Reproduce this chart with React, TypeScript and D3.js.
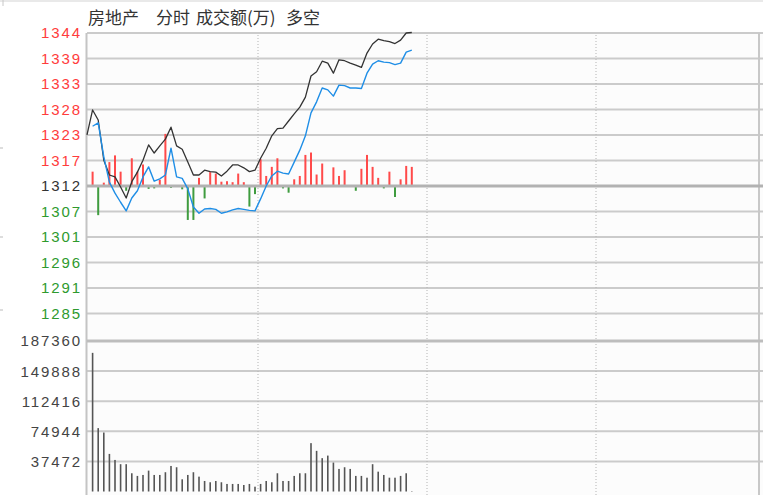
import React from 'react';
import * as d3 from 'd3';

// ---- data (2-minute slots from the open) ----
const prevClose = 1312;
const priceRange = 32;
const priceTickLabels = ['1344', '1339', '1333', '1328', '1323', '1317', '1312', '1307', '1301', '1296', '1291', '1285'];
const volumeTickLabels = ['187360', '149888', '112416', '74944', '37472'];
const volumeMax = 187360;

const priceLine: number[] = [
  1322.7, 1327.9, 1325.8, 1317.4, 1314.3, 1313.9, 1311.8, 1309.5, 1312.9, 1314.9,
  1317.4, 1320.6, 1318.9, 1320.4, 1321.8, 1324.3, 1320.4, 1319.7, 1317.0, 1314.3,
  1314.3, 1315.3, 1315.0, 1314.9, 1314.1, 1315.1, 1316.4, 1316.4, 1315.8, 1315.0,
  1315.3, 1317.8, 1319.9, 1322.5, 1324.0, 1324.1, 1325.6, 1327.1, 1328.5, 1330.6,
  1335.0, 1335.9, 1338.1, 1337.7, 1335.6, 1338.4, 1338.2, 1337.7, 1337.3, 1336.8,
  1339.8, 1341.7, 1342.7, 1342.4, 1342.2, 1341.8, 1342.5, 1344.0, 1344.1,
];

const avgLine: (number | null)[] = [
  null, 1324.5, 1325.2, 1318.1, 1312.8, 1310.5, 1308.6, 1306.8, 1309.5, 1311.0,
  1313.9, 1316.0, 1313.0, 1313.5, 1314.3, 1319.9, 1313.9, 1313.6, 1311.4, 1307.6,
  1306.3, 1307.2, 1307.3, 1307.1, 1306.3, 1306.6, 1307.0, 1307.3, 1307.1, 1306.9,
  1306.8, 1309.3, 1312.0, 1314.1, 1315.1, 1314.7, 1314.5, 1317.0, 1319.5, 1322.5,
  1327.3, 1329.6, 1332.5, 1332.1, 1330.8, 1333.1, 1333.0, 1332.5, 1332.5, 1332.4,
  1335.6, 1337.5, 1338.2, 1337.9, 1337.8, 1337.4, 1337.7, 1340.0, 1340.4,
];

// 多空 bars, in price-axis units around the previous close
const bullBear: number[] = [
  0, 3.0, -6.1, 0.7, 5.0, 6.4, 3.0, -1.0, 5.8, 3.0,
  4.5, -0.6, -0.5, 1.3, 10.9, -0.4, 0, -0.7, -7.1, -7.1,
  1.7, -2.6, 2.9, 2.6, 0.9, 1.0, 0.8, 2.6, 0.8, -4.3,
  -1.7, 5.6, 2.1, 4.0, 5.8, -0.5, -1.4, 1.4, 2.1, 6.5,
  7.0, 2.4, 4.7, 0, 3.9, 2.1, 3.3, 0, -1.0, 3.6,
  6.5, 4.0, 1.7, -0.5, 3.0, -2.3, 1.4, 4.2, 4.0,
];

// 成交额(万)
const volume: number[] = [
  0, 172600, 78900, 73400, 46800, 39300, 34000, 34000, 22700, 19400,
  20600, 26000, 20600, 20600, 24000, 31800, 30200, 15200, 20600, 24000,
  18500, 13100, 11500, 13100, 11500, 9400, 9400, 9400, 8100, 9400,
  6000, 9400, 13100, 11500, 22700, 13100, 13100, 19400, 22700, 22700,
  60200, 50600, 41500, 44700, 36000, 28100, 30200, 28100, 19400, 19400,
  17200, 34000, 24700, 20600, 17200, 17200, 19400, 22700, 500,
];

const hourDividers = [1, 2, 3];

export default function App() {
  const W = 763;
  const H = 495;
  const left = 87;
  const right = 759;
  const top = 33;
  const priceBottom = 339;
  const volTop = 341;
  const volBottom = 491.5;

  const x = d3.scaleLinear().domain([0, 120]).range([left, right]);
  const hourX = d3.scaleLinear().domain([0, 4]).range([89, 765]);
  const priceY = d3.scaleLinear().domain([prevClose - priceRange, prevClose + priceRange]).range([priceBottom, top]);
  const volY = d3.scaleLinear().domain([0, volumeMax]).range([volBottom, volTop]);

  const step = priceRange / 6;
  const priceTicks = priceTickLabels.map((label, i) => ({ label, value: prevClose + priceRange - i * step }));
  const volTicks = volumeTickLabels.map((label) => ({ label, value: +label }));

  const line = d3
    .line<number | null>()
    .defined((d) => d != null)
    .x((_, i) => x(i))
    .y((d) => priceY(d as number));

  const baseY = priceY(prevClose);
  const labelFont = '"Liberation Sans", Arial, sans-serif';

  const labelColor = (v: number) => (Math.abs(v - prevClose) < 0.01 ? '#333' : v > prevClose ? '#ff3c3c' : '#2e9a2e');

  return (
    <svg width={W} height={H} style={{ position: 'absolute', left: 0, top: 0, background: '#fff' }}>
      <rect x={0} y={0} width={W} height={H} fill="#fff" />
      <rect x={left} y={top} width={W - left} height={H - top} fill="#fcfcfc" />
      {/* top border + left decorations */}
      <line x1={0} x2={W} y1={1} y2={1} stroke="#e2e2e2" strokeWidth={1.5} />
      <line x1={3} x2={3} y1={0} y2={6} stroke="#c8c8c8" strokeWidth={1} />
      {[148, 237, 310].map((yy) => (
        <line key={yy} x1={0} x2={3} y1={yy} y2={yy} stroke="#bbb" strokeWidth={1} />
      ))}

      {/* title */}
      <g fontFamily='"Noto Sans CJK SC", sans-serif' fontSize={17} fill="#333">
        <text x={88} y={24}>房地产</text>
        <text x={156} y={24}>分时</text>
        <text x={196} y={24}>成交额(万)</text>
        <text x={286} y={24}>多空</text>
      </g>

      {/* horizontal grid: price panel */}
      {priceTicks.map((t) =>
        t.value === prevClose ? null : (
          <line key={t.label} x1={left} x2={W} y1={priceY(t.value)} y2={priceY(t.value)} stroke="#cbcbcb" strokeWidth={2} />
        )
      )}
      {/* volume panel grid */}
      {volTicks.slice(1).map((t) => (
        <line key={t.label} x1={left} x2={W} y1={volY(t.value)} y2={volY(t.value)} stroke="#cbcbcb" strokeWidth={2} />
      ))}

      {/* vertical dotted hour dividers */}
      {hourDividers.map((h) => (
        <line key={h} x1={hourX(h)} x2={hourX(h)} y1={top + 2} y2={H} stroke="#b4b4b4" strokeWidth={1} strokeDasharray="1,2" />
      ))}

      {/* left axis & right border */}
      <line x1={left - 0.5} x2={left - 0.5} y1={top} y2={H} stroke="#c4c4c4" strokeWidth={2} />
      <line x1={right} x2={right} y1={top} y2={H} stroke="#c8c8c8" strokeWidth={2} />

      {/* 多空 bars */}
      {bullBear.map((v, i) =>
        v === 0 ? null : v > 0 ? (
          <rect key={'b' + i} x={x(i) - 1} y={priceY(prevClose + v)} width={2} height={baseY - priceY(prevClose + v)} fill="#ff4a4a" />
        ) : (
          <rect key={'b' + i} x={x(i) - 1} y={baseY} width={2} height={priceY(prevClose + v) - baseY} fill="#3f9c3f" />
        )
      )}

      {/* previous close line */}
      <line x1={left} x2={W} y1={baseY} y2={baseY} stroke="#b2b2b2" strokeWidth={3} />
      {/* panel separator */}
      <line x1={left} x2={W} y1={volTop} y2={volTop} stroke="#bdbdbd" strokeWidth={3} />

      {/* volume bars */}
      {volume.map((v, i) =>
        v === 0 ? null : (
          <rect key={'v' + i} x={x(i) - 0.8} y={volY(v)} width={1.6} height={volBottom - volY(v)} fill="#555" />
        )
      )}

      {/* price & average lines */}
      <path d={line(priceLine) || ''} fill="none" stroke="#333" strokeWidth={1.3} strokeLinejoin="round" />
      <path d={line(avgLine) || ''} fill="none" stroke="#1f8ee6" strokeWidth={1.4} strokeLinejoin="round" />

      {/* axis labels */}
      <g fontFamily={labelFont} fontSize={15} textAnchor="end" letterSpacing={1.9}>
        {priceTicks.map((t) => (
          <text key={t.label} x={82} y={priceY(t.value)} dy="0.36em" fill={labelColor(t.value)}>
            {t.label}
          </text>
        ))}
        {volTicks.map((t) => (
          <text key={t.label} x={82} y={volY(t.value)} dy="0.36em" fill="#444">
            {t.label}
          </text>
        ))}
      </g>
    </svg>
  );
}
